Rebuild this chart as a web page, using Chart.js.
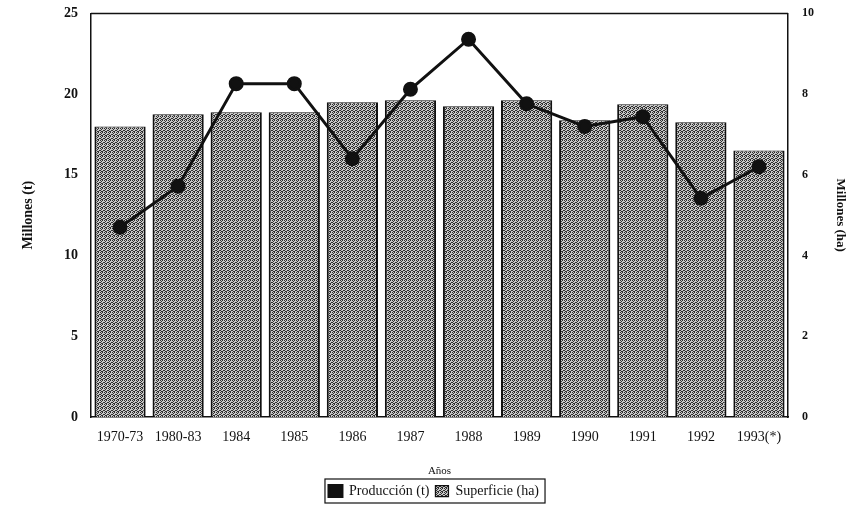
<!DOCTYPE html>
<html>
<head>
<meta charset="utf-8">
<script src="https://cdn.jsdelivr.net/npm/chart.js@4.4.1/dist/chart.umd.min.js"></script>
<style>
  html, body { margin: 0; padding: 0; background: #fff; }
  #wrap { width: 860px; height: 516px; }
</style>
</head>
<body>
<div id="wrap"><canvas id="chart" width="860" height="516"></canvas></div>
<script>
// Categories and values
const categories = ["1970-73", "1980-83", "1984", "1985", "1986", "1987", "1988", "1989", "1990", "1991", "1992", "1993(*)"];
const produccion = [11.75, 14.3, 20.65, 20.65, 16.0, 20.3, 23.4, 19.4, 18.0, 18.6, 13.55, 15.5]; // millones t
const superficie = [7.2, 7.5, 7.55, 7.55, 7.8, 7.85, 7.7, 7.85, 7.35, 7.75, 7.3, 6.6];       // millones ha
const leftTicks = [0, 5, 10, 15, 20, 25];
const rightTicks = [0, 2, 4, 6, 8, 10];

const serif = "'Liberation Serif', 'DejaVu Serif', serif";

// speckled grey fill like the scanned bars
function makePattern() {
  const c = document.createElement("canvas");
  c.width = 4; c.height = 4;
  const g = c.getContext("2d");
  g.fillStyle = "#c8c8c8";
  g.fillRect(0, 0, 4, 4);
  g.fillStyle = "#2e2e2e";
  [[0, 0], [2, 0], [1, 1], [3, 2], [0, 2], [2, 3], [1, 3]].forEach(p => g.fillRect(p[0], p[1], 1, 1));
  return g.createPattern(c, "repeat");
}
const stipple = makePattern();

// frame on top of plot + border round the legend
const framePlugin = {
  id: "frame",
  afterDraw(chart) {
    const { ctx, chartArea: a, legend } = chart;
    ctx.save();
    ctx.strokeStyle = "#111";
    ctx.lineWidth = 1.5;
    ctx.beginPath();
    ctx.moveTo(a.left, a.top);
    ctx.lineTo(a.right, a.top);
    ctx.stroke();
    if (legend && legend.legendHitBoxes && legend.legendHitBoxes.length) {
      const hb = legend.legendHitBoxes;
      const x0 = hb[0].left - 4;
      const last = hb[hb.length - 1];
      const x1 = last.left + last.width + 6;
      const y0 = hb[0].top - 5;
      const y1 = hb[0].top + hb[0].height + 5;
      ctx.lineWidth = 1.2;
      ctx.strokeRect(x0, y0, x1 - x0, y1 - y0);
    }
    ctx.restore();
  }
};

new Chart(document.getElementById("chart"), {
  data: {
    labels: categories,
    datasets: [
      {
        type: "line",
        label: "Producción (t)",
        data: produccion,
        yAxisID: "y",
        borderColor: "#111",
        backgroundColor: "#111",
        borderWidth: 3,
        pointRadius: 6,
        pointBackgroundColor: "#111",
        pointBorderColor: "#111",
        tension: 0,
        order: 0
      },
      {
        type: "bar",
        label: "Superficie (ha)",
        data: superficie,
        yAxisID: "y1",
        backgroundColor: stipple,
        borderColor: "#111",
        borderWidth: { left: 2, right: 2, top: 1, bottom: 0 },
        borderSkipped: false,
        categoryPercentage: 0.9,
        barPercentage: 0.98,
        order: 1
      }
    ]
  },
  options: {
    responsive: false,
    animation: false,
    layout: { padding: { top: 13, left: 20, right: 12, bottom: 8 } },
    scales: {
      x: {
        grid: { display: false },
        border: { display: true, color: "#111", width: 1.5 },
        ticks: { color: "#111", font: { family: serif, size: 14 }, maxRotation: 0, autoSkip: false, padding: 4 },
        title: { display: true, text: "Años", color: "#111", font: { family: serif, size: 11 }, padding: { top: 6, bottom: 0 } },
        afterFit(s) { s.height = 61; }
      },
      y: {
        position: "left",
        min: 0, max: 25,
        afterBuildTicks(s) { s.ticks = leftTicks.map(v => ({ value: v })); },
        grid: { display: false },
        border: { display: true, color: "#111", width: 1.5 },
        ticks: { color: "#111", font: { family: serif, size: 14, weight: "bold" }, padding: 5 },
        title: { display: true, text: "Millones (t)", color: "#111", font: { family: serif, size: 14, weight: "bold" }, padding: 0 },
        afterFit(s) { s.width = 71; }
      },
      y1: {
        position: "right",
        min: 0, max: 10,
        afterBuildTicks(s) { s.ticks = rightTicks.map(v => ({ value: v })); },
        grid: { display: false },
        border: { display: true, color: "#111", width: 1.5 },
        ticks: { color: "#111", font: { family: serif, size: 12, weight: "bold" }, padding: 6 },
        title: { display: true, text: "Millones (ha)", color: "#111", font: { family: serif, size: 13, weight: "bold" }, padding: 0 },
        afterFit(s) { s.width = 60; }
      }
    },
    plugins: {
      legend: {
        position: "bottom",
        labels: {
          color: "#111",
          font: { family: serif, size: 14 },
          boxWidth: 13,
          boxHeight: 11,
          padding: 6
        }
      },
      tooltip: { enabled: false }
    }
  },
  plugins: [framePlugin]
});
</script>
</body>
</html>
